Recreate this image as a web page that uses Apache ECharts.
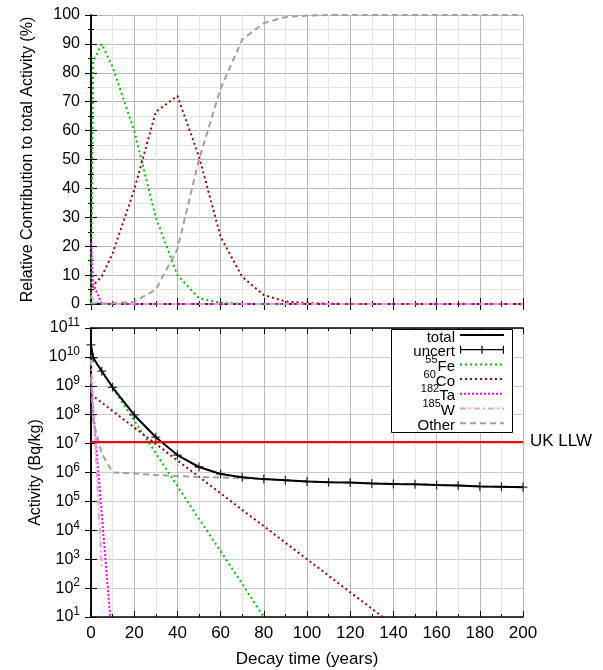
<!DOCTYPE html>
<html>
<head>
<meta charset="utf-8">
<script src="https://cdn.jsdelivr.net/npm/echarts@6/dist/echarts.min.js"></script>
<style>
  html, body { margin: 0; padding: 0; background: #fff; }
  #chart { width: 603px; height: 670px; }
</style>
</head>
<body>
<div id="chart"></div>
<script>
// decay times (years)
const times = [0, 1, 5, 10, 20, 30, 40, 50, 60, 70, 80, 90, 100, 110, 120, 130, 140, 150, 160, 170, 180, 190, 200]

// top panel: relative contribution (%)
const fePct = [0, 84, 90, 82, 60, 30, 10, 2, 0.4, 0.1, 0, 0, 0, 0, 0, 0, 0, 0, 0, 0, 0, 0, 0]
const coPct = [4, 6.5, 9.5, 17.5, 39.5, 66.5, 72, 51, 23.3, 9.4, 3.1, 0.9, 0.3, 0.1, 0, 0, 0, 0, 0, 0, 0, 0, 0]
const taPct = [21, 7, 0, 0, 0, 0, 0, 0, 0, 0, 0, 0, 0, 0, 0, 0, 0, 0, 0, 0, 0, 0, 0]
const wPct = [3, 1.5, 0, 0, 0, 0, 0, 0, 0, 0, 0, 0, 0, 0, 0, 0, 0, 0, 0, 0, 0, 0, 0]
const otherPct = [0, 0.3, 0.2, 0.3, 0.8, 5, 19, 50, 74.5, 91.5, 97.2, 99.3, 99.8, 100, 100, 100, 100, 100, 100, 100, 100, 100, 100]

// bottom panel: activity (Bq/kg)
const total = [2.6e10, 9.3e9, 3.2e9, 8.9e8, 9.8e7, 1.66e7, 4.0e6, 1.55e6, 8.9e5, 6.8e5, 5.9e5, 5.4e5, 4.9e5, 4.6e5, 4.5e5, 4.2e5, 4.0e5, 3.9e5, 3.7e5, 3.55e5, 3.3e5, 3.2e5, 3.1e5]
const fe55 = [1.15e10, 8.9e9, 3.2e9, 8.5e8, 6.3e7, 4.7e6, 3.4e5, 2.5e4, 1.9e3, 1.4e2, 10, 0.75, null, null, null, null, null, null, null, null, null, null, null]
const co60 = [5.0e8, 4.4e8, 2.6e8, 1.35e8, 3.6e7, 9.8e6, 2.6e6, 7.1e5, 1.9e5, 5.1e4, 1.4e4, 3.7e3, 1.0e3, 2.7e2, 72, 19.5, 5.2, null, null, null, null, null, null]
const ta182 = [1.3e9, 1.5e8, 3.5e4, 1.0, null, null, null, null, null, null, null, null, null, null, null, null, null, null, null, null, null, null, null]
const w185 = [8e9, 2.5e8, 500, null, null, null, null, null, null, null, null, null, null, null, null, null, null, null, null, null, null, null, null]
const other = [2e9, 6e7, 4.5e6, 1.0e6, 9.2e5, 8.2e5, 7.5e5, 7.0e5, 6.7e5, 6.4e5, 5.8e5, 5.4e5, 4.9e5, 4.6e5, 4.5e5, 4.2e5, 4.0e5, 3.9e5, 3.7e5, 3.55e5, 3.3e5, 3.2e5, 3.1e5]
const llwLimit = 1.2e7

const legendNames = ['total', 'uncert', 'Fe55', 'Co60', 'Ta182', 'W185', 'Other']
// every row carries a superscript slot so all rows get the same height
const legendLabels = {
  total: '{s| }{b|total}',
  uncert: '{s| }{b|uncert}',
  Fe55: '{s|55}{b|Fe}',
  Co60: '{s|60}{b|Co}',
  Ta182: '{s|182}{b|Ta}',
  W185: '{s|185}{b|W}',
  Other: '{s| }{b|Other}'
}

const FONT = 'Liberation Sans'
const pairs = arr => times.map((t, i) => [t, arr[i]])

const styles = {
  Fe55: { color: '#00c000', type: [2, 3], width: 2 },
  Co60: { color: '#990000', type: [2, 3], width: 2 },
  Ta182: { color: '#ff00ff', type: [2, 2], width: 2 },
  W185: { color: '#e0a0e0', type: [6, 3, 2, 3], width: 2 },
  Other: { color: '#a0a0a0', type: [6, 4], width: 2 }
}

const chart = echarts.init(document.getElementById('chart'))

const xCommon = (grid, pos, showLabel) => ({
  type: 'value',
  gridIndex: grid,
  position: pos,
  min: 0,
  max: 200,
  interval: 20,
  axisLine: { show: true, lineStyle: { color: '#000', width: 1.5 } },
  axisTick: { show: true, inside: true, length: 6, lineStyle: { color: '#000' } },
  minorTick: { show: true, splitNumber: 2, length: 3, lineStyle: { color: '#000' } },
  axisLabel: { show: showLabel, color: '#000', fontSize: 17, fontFamily: FONT, margin: 8 },
  splitLine: { show: pos === 'bottom', lineStyle: { color: '#b8b8b8' } },
  minorSplitLine: { show: pos === 'bottom', lineStyle: { color: '#e4e4e4' } }
})

const yTop = (pos, showLabel) => ({
  type: 'value',
  gridIndex: 0,
  position: pos,
  min: 0,
  max: 100,
  interval: 10,
  axisLine: { show: true, lineStyle: { color: '#000', width: 1.5 } },
  axisTick: { show: true, inside: true, length: 6, lineStyle: { color: '#000' } },
  minorTick: { show: true, splitNumber: 2, length: 3, lineStyle: { color: '#000' } },
  axisLabel: { show: showLabel, color: '#000', fontSize: 16, fontFamily: FONT, margin: 11 },
  splitLine: { show: pos === 'left', lineStyle: { color: '#b8b8b8' } },
  minorSplitLine: { show: pos === 'left', lineStyle: { color: '#e4e4e4' } }
})

const yBottom = (pos, showLabel) => ({
  type: 'log',
  logBase: 10,
  gridIndex: 1,
  position: pos,
  min: 10,
  max: 1e11,
  interval: 1,
  axisLine: { show: true, lineStyle: { color: '#000', width: 1.5 } },
  axisTick: { show: true, inside: true, length: 6, lineStyle: { color: '#000' } },
  axisLabel: {
    show: showLabel,
    color: '#000',
    fontFamily: FONT,
    margin: 11,
    formatter: v => '{b|10}{e|' + Math.round(Math.log10(v)) + '}',
    rich: {
      b: { fontSize: 16, lineHeight: 22, fontFamily: FONT, color: '#000' },
      e: { fontSize: 12, lineHeight: 12, verticalAlign: 'top', fontFamily: FONT, color: '#000' }
    }
  },
  splitLine: { show: pos === 'left', lineStyle: { color: '#cccccc' } }
})

const topSeries = [
  ['Fe55', fePct], ['Co60', coPct], ['Ta182', taPct], ['W185', wPct], ['Other', otherPct]
].map(([name, arr]) => ({
  name,
  type: 'line',
  xAxisIndex: 0,
  yAxisIndex: 0,
  symbol: 'none',
  lineStyle: styles[name],
  itemStyle: { color: styles[name].color },
  data: pairs(arr)
}))

const bottomSeries = [
  ['Fe55', fe55], ['Co60', co60], ['Ta182', ta182], ['W185', w185], ['Other', other]
].map(([name, arr]) => ({
  name,
  type: 'line',
  xAxisIndex: 2,
  yAxisIndex: 2,
  symbol: 'none',
  lineStyle: styles[name],
  itemStyle: { color: styles[name].color },
  data: pairs(arr)
}))

const plusPath = 'path://M4.3,0 L5.7,0 L5.7,4.3 L10,4.3 L10,5.7 L5.7,5.7 L5.7,10 L4.3,10 L4.3,5.7 L0,5.7 L0,4.3 L4.3,4.3 Z'
const uncertIcon = 'path://M0,0 L1.2,0 L1.2,3.4 L21.4,3.4 L21.4,0 L22.6,0 L22.6,3.4 L42.8,3.4 L42.8,0 L44,0 L44,8 L42.8,8 L42.8,4.6 L22.6,4.6 L22.6,8 L21.4,8 L21.4,4.6 L1.2,4.6 L1.2,8 L0,8 Z'

const axisName = (text, gap, size) => ({
  name: text,
  nameLocation: 'middle',
  nameGap: gap,
  nameMoveOverlap: false,
  nameTextStyle: { color: '#000', fontSize: size, fontFamily: FONT }
})

const option = {
  backgroundColor: '#fff',
  animation: false,
  textStyle: { fontFamily: FONT },
  grid: [
    { left: 91, top: 15, width: 432, height: 289, show: false },
    { left: 91, top: 328, width: 432, height: 289, show: false }
  ],
  // key frame
  graphic: [{
    type: 'rect',
    z: 3,
    shape: { x: 391.5, y: 329.5, width: 121, height: 103 },
    style: { fill: '#fff', stroke: '#000', lineWidth: 1 }
  }],
  xAxis: [
    xCommon(0, 'bottom', false),
    xCommon(0, 'top', false),
    Object.assign(xCommon(1, 'bottom', true), axisName('Decay time (years)', 34, 17)),
    xCommon(1, 'top', false)
  ],
  yAxis: [
    Object.assign(yTop('left', true), axisName('Relative Contribution to total Activity (%)', 55, 16)),
    yTop('right', false),
    Object.assign(yBottom('left', true), axisName('Activity (Bq/kg)', 47, 16)),
    yBottom('right', false)
  ],
  legend: {
    z: 5,
    orient: 'vertical',
    align: 'right',
    right: 98,
    top: 325,
    itemWidth: 44,
    itemHeight: 12,
    itemGap: -5.3,
    padding: 0,
    selectedMode: false,
    itemStyle: { opacity: 0 },
    data: legendNames.map(n => n === 'uncert'
      ? { name: n, icon: uncertIcon, itemStyle: { opacity: 1, color: '#000' } }
      : { name: n }),
    formatter: n => legendLabels[n],
    textStyle: {
      color: '#000',
      fontFamily: FONT,
      rich: {
        b: { fontSize: 15, lineHeight: 20, fontFamily: FONT, color: '#000', verticalAlign: 'bottom' },
        s: { fontSize: 11, lineHeight: 11, fontFamily: FONT, color: '#000', verticalAlign: 'top' }
      }
    }
  },
  series: [
    ...topSeries,
    ...bottomSeries,
    {
      name: 'total',
      type: 'line',
      xAxisIndex: 2,
      yAxisIndex: 2,
      symbol: 'none',
      z: 4,
      lineStyle: { color: '#000', width: 2 },
      itemStyle: { color: '#000' },
      data: pairs(total),
      markLine: {
        silent: true,
        symbol: 'none',
        lineStyle: { color: '#ff0000', width: 2, type: 'solid' },
        label: { show: true, position: 'end', formatter: 'UK LLW', color: '#000', fontSize: 17, fontFamily: FONT, distance: 7 },
        data: [{ yAxis: llwLimit }]
      }
    },
    {
      name: 'uncert',
      type: 'scatter',
      xAxisIndex: 2,
      yAxisIndex: 2,
      symbol: plusPath,
      symbolSize: 9,
      z: 5,
      itemStyle: { color: '#000' },
      data: pairs(total)
    }
  ]
}

chart.setOption(option)
</script>
</body>
</html>
